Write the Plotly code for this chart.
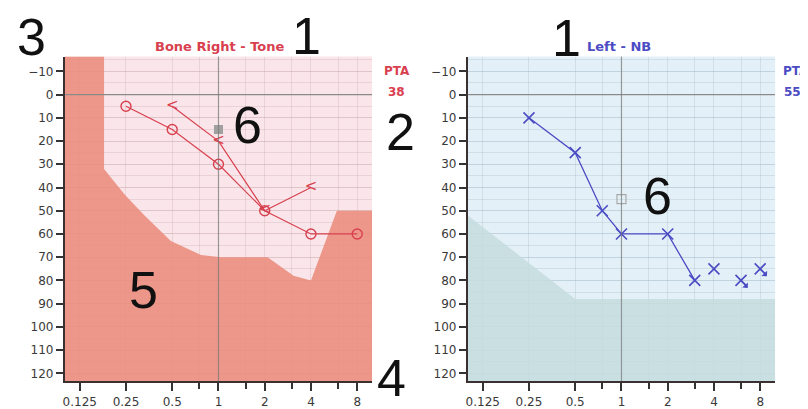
import math
import plotly.graph_objects as go

# --- axes ---------------------------------------------------------------
freq_ticks = [0.125, 0.25, 0.5, 1, 2, 4, 8]
freq_labels = ['0.125', '0.25', '0.5', '1', '2', '4', '8']
freq_minor = [0.75, 1.5, 3, 6]
db_ticks = list(range(-10, 121, 10))
db_minor = list(range(-15, 125, 5))
db_range = [123.4, -16.4]

# --- right ear, bone / tone (left panel) --------------------------------
right_air_freq = [0.25, 0.5, 1, 2, 4, 8]
right_air_db = [5, 15, 30, 50, 60, 60]
right_bone_freq = [0.5, 1, 2, 4]
right_bone_db = [5, 20, 50, 40]
right_ref_freq = [1]
right_ref_db = [15]
right_pta = 38

# shaded area below the curve (boundary, then closed to bottom)
shade_r_freq = [0.1, 0.18, 0.18, 0.245, 0.33, 0.49, 0.77, 1.04, 2.09, 3.08, 4.0, 5.9, 10]
shade_r_db = [-16.4, -16.4, 32, 43, 52, 63, 69, 70, 70, 78, 80, 50, 50]

# --- left ear, NB (right panel) -----------------------------------------
left_freq = [0.25, 0.5, 0.75, 1, 2, 3, 4, 6, 8]
left_db = [10, 25, 50, 60, 60, 80, 75, 80, 75]
left_joined = 6
left_noresp_freq = [6, 8]
left_noresp_db = [80, 75]
left_ref_freq = [1]
left_ref_db = [45]
left_pta = 55

shade_l_freq = [0.1, 0.5, 10]
shade_l_db = [52, 88, 88]

RED = '#d8404f'
BLUE = '#4b4bc4'
# page is drawn 8px in from the window corner
OFF = 8
W, H = 808 - OFF, 409 - OFF


def px(x, y):
    return (x - OFF) / W, 1 - (y - OFF) / H


fig = go.Figure()

# shaded regions
fig.add_trace(go.Scatter(
    x=shade_r_freq + [10, 0.1], y=shade_r_db + [db_range[0], db_range[0]],
    fill='toself', fillcolor='rgba(234,142,126,0.9)', mode='lines',
    line=dict(width=0), hoverinfo='skip', showlegend=False, xaxis='x', yaxis='y'))
fig.add_trace(go.Scatter(
    x=shade_l_freq + [10, 0.1], y=shade_l_db + [db_range[0], db_range[0]],
    fill='toself', fillcolor='rgba(198,220,222,0.85)', mode='lines',
    line=dict(width=0), hoverinfo='skip', showlegend=False, xaxis='x2', yaxis='y2'))

# left panel marks
fig.add_trace(go.Scatter(
    x=right_air_freq, y=right_air_db, mode='lines+markers',
    line=dict(color=RED, width=1.2),
    marker=dict(symbol='circle-open', size=10, color=RED, line=dict(width=1.4)),
    showlegend=False, xaxis='x', yaxis='y'))
fig.add_trace(go.Scatter(
    x=right_bone_freq, y=right_bone_db, mode='lines+text',
    text=['<'] * len(right_bone_freq), textposition='middle center',
    textfont=dict(color=RED, size=15, family='DejaVu Sans'),
    line=dict(color=RED, width=1.2),
    showlegend=False, xaxis='x', yaxis='y'))
fig.add_trace(go.Scatter(
    x=right_ref_freq, y=right_ref_db, mode='markers',
    marker=dict(symbol='square', size=9, color='#a0a0a0'),
    showlegend=False, xaxis='x', yaxis='y'))

# right panel marks
fig.add_trace(go.Scatter(
    x=left_freq[:left_joined], y=left_db[:left_joined], mode='lines',
    line=dict(color=BLUE, width=1.3),
    showlegend=False, xaxis='x2', yaxis='y2'))
fig.add_trace(go.Scatter(
    x=left_freq, y=left_db, mode='markers',
    marker=dict(symbol='x-thin-open', size=11, color=BLUE, line=dict(width=1.6, color=BLUE)),
    showlegend=False, xaxis='x2', yaxis='y2'))
fig.add_trace(go.Scatter(
    x=left_ref_freq, y=left_ref_db, mode='markers',
    marker=dict(symbol='square-open', size=9, color='#aaaaaa', line=dict(width=1.2)),
    showlegend=False, xaxis='x2', yaxis='y2'))

for f, d in zip(left_noresp_freq, left_noresp_db):
    fig.add_annotation(x=math.log10(f), y=d, xref='x2', yref='y2', text='',
                       showarrow=True, ax=8, ay=9, arrowside='start',
                       arrowhead=6, arrowsize=0.6, arrowwidth=1.3, arrowcolor=BLUE)


def x_axis(x0, x1, anchor, grid):
    return dict(type='log', domain=[px(x0, 0)[0], px(x1, 0)[0]], anchor=anchor,
                range=[-1, 1],
                tickvals=freq_ticks, ticktext=freq_labels, ticks='outside',
                ticklen=8, tickwidth=1.5, tickcolor='#333',
                showline=True, linecolor='#3b3030', linewidth=2,
                showgrid=True, gridcolor=grid, gridwidth=1, zeroline=False,
                tickfont=dict(family='DejaVu Sans', size=12, color='#3a3a3a'),
                minor=dict(tickvals=freq_minor, ticks='outside', ticklen=6,
                           tickwidth=1.5, tickcolor='#333', showgrid=True,
                           gridcolor=grid))


def y_axis(anchor, grid):
    return dict(domain=[px(0, 385)[1], px(0, 57)[1]], anchor=anchor, range=db_range,
                tickvals=db_ticks, ticks='outside', ticklen=7, tickwidth=1.5,
                tickcolor='#333', showline=True, linecolor='#3b3030', linewidth=2,
                showgrid=True, gridcolor=grid, zeroline=False,
                tickfont=dict(family='DejaVu Sans', size=12, color='#3a3a3a'),
                minor=dict(tickvals=db_minor, showgrid=True, gridcolor=grid))


grid_r = 'rgba(200,165,170,0.3)'
grid_l = 'rgba(160,185,200,0.3)'

fig.update_layout(
    width=W, height=H, margin=dict(l=0, r=0, t=0, b=0),
    paper_bgcolor='white', plot_bgcolor='rgba(0,0,0,0)',
    xaxis=x_axis(63, 371, 'y', grid_r),
    yaxis=y_axis('x', grid_r),
    xaxis2=x_axis(467, 775, 'y2', grid_l),
    yaxis2=y_axis('x2', grid_l),
)

# panel backgrounds, 0 dB and 1 kHz reference lines
for xr, yr, bg in [('x', 'y', '#fae6ea'), ('x2', 'y2', '#e4f0f7')]:
    fig.add_shape(type='rect', xref=xr + ' domain', yref=yr + ' domain',
                  x0=0, x1=1, y0=0, y1=1, fillcolor=bg, line_width=0, layer='below')
    fig.add_shape(type='line', xref=xr + ' domain', yref=yr, x0=0, x1=1, y0=0, y1=0,
                  line=dict(color='#8a8a8a', width=1.3), layer='above')
    fig.add_shape(type='line', xref=xr, yref=yr + ' domain', x0=1, x1=1, y0=0, y1=1,
                  line=dict(color='rgba(120,120,120,0.7)', width=1.2), layer='above')


# titles and PTA
def label(x, y, text, color, size=12, family='DejaVu Sans'):
    xx, yy = px(x, y)
    fig.add_annotation(x=xx, y=yy, xref='paper', yref='paper', text=text,
                       showarrow=False, xanchor='center', yanchor='middle',
                       font=dict(family=family, size=size, color=color))


label(218, 47, '<b>Bone Right - Tone</b>', RED, size=13)
label(619, 47, '<b>Left - NB</b>', BLUE, size=13)
label(396, 72, '<b>PTA</b>', RED)
label(395, 93, '<b>%d</b>' % right_pta, RED)
label(796, 72, '<b>PTA</b>', BLUE)
label(792, 93, '<b>%d</b>' % left_pta, BLUE)

# big callout numbers
for x, y, t in [(30, 37, '3'), (305, 36, '1'), (399, 133, '2'), (246, 126, '6'),
                (142, 293, '5'), (390, 382, '4'), (566, 38, '1'), (657, 198, '6')]:
    label(x, y, t, '#111111', size=52, family='Liberation Sans')

fig.write_html('out.html')
